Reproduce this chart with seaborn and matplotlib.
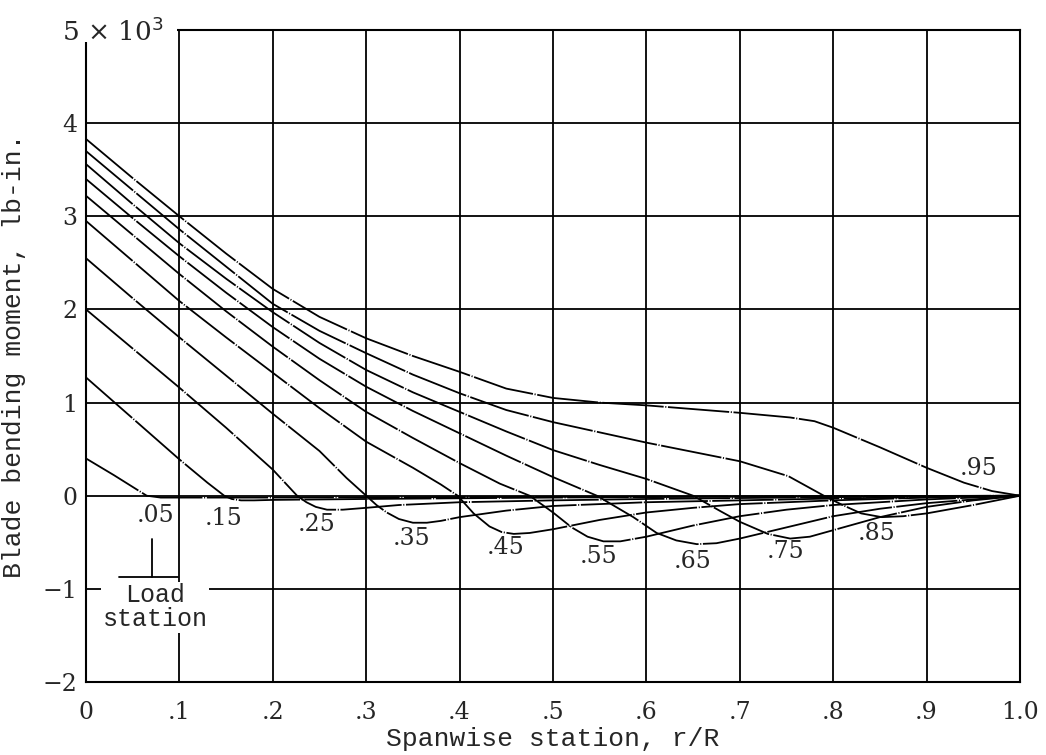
import matplotlib
matplotlib.use("Agg")
import matplotlib.pyplot as plt
import seaborn as sns
import pandas as pd
from matplotlib.patches import Rectangle

# ---------------- data ----------------
stations = [".05", ".15", ".25", ".35", ".45", ".55", ".65", ".75", ".85", ".95"]

r_05 = [0, 0.03, 0.065, 0.08, 0.2, 0.4, 0.6, 0.8, 1.0]
m_05 = [0.40, 0.22, 0.0, -0.02, -0.02, -0.015, -0.01, -0.005, 0.0]

r_15 = [0, 0.05, 0.1, 0.13, 0.148, 0.156, 0.166, 0.18, 0.2, 0.3, 0.5, 0.7, 0.9, 1.0]
m_15 = [1.27, 0.83, 0.39, 0.14, 0.0, -0.035, -0.05, -0.05, -0.045, -0.035, -0.02, -0.01, -0.004, 0.0]

r_25 = [0, 0.05, 0.1, 0.15, 0.2, 0.226, 0.236, 0.246, 0.258, 0.275, 0.3, 0.335, 0.4, 0.5, 0.6, 0.7, 0.8, 0.9, 1.0]
m_25 = [2.0, 1.58, 1.16, 0.73, 0.28, 0.0, -0.07, -0.12, -0.15, -0.15, -0.13, -0.10, -0.07, -0.05, -0.035, -0.025, -0.015, -0.007, 0.0]

r_35 = [0, 0.05, 0.1, 0.15, 0.2, 0.25, 0.279, 0.30, 0.311, 0.322, 0.335, 0.35, 0.365, 0.38, 0.4, 0.45, 0.5, 0.6, 0.7, 0.8, 0.9, 1.0]
m_35 = [2.55, 2.12, 1.70, 1.29, 0.88, 0.48, 0.19, 0.0, -0.10, -0.18, -0.25, -0.29, -0.29, -0.27, -0.23, -0.16, -0.11, -0.07, -0.05, -0.03, -0.015, 0.0]

r_45 = [0, 0.05, 0.1, 0.15, 0.2, 0.25, 0.3, 0.35, 0.38, 0.398, 0.415, 0.432, 0.445, 0.458, 0.475, 0.5, 0.55, 0.6, 0.65, 0.7, 0.8, 0.9, 1.0]
m_45 = [2.95, 2.52, 2.09, 1.70, 1.32, 0.94, 0.58, 0.30, 0.12, 0.0, -0.19, -0.33, -0.39, -0.41, -0.40, -0.36, -0.26, -0.18, -0.13, -0.09, -0.05, -0.02, 0.0]

r_55 = [0, 0.05, 0.1, 0.15, 0.2, 0.25, 0.3, 0.35, 0.4, 0.443, 0.475, 0.5, 0.52, 0.537, 0.554, 0.572, 0.6, 0.65, 0.7, 0.75, 0.8, 0.9, 1.0]
m_55 = [3.22, 2.80, 2.38, 1.98, 1.60, 1.24, 0.90, 0.62, 0.35, 0.13, 0.0, -0.18, -0.34, -0.44, -0.49, -0.49, -0.44, -0.32, -0.22, -0.15, -0.10, -0.04, 0.0]

r_65 = [0, 0.05, 0.1, 0.15, 0.2, 0.25, 0.3, 0.35, 0.4, 0.45, 0.5, 0.547, 0.586, 0.611, 0.632, 0.654, 0.675, 0.7, 0.75, 0.8, 0.85, 0.9, 1.0]
m_65 = [3.40, 2.98, 2.57, 2.18, 1.81, 1.47, 1.17, 0.91, 0.67, 0.43, 0.20, 0.0, -0.23, -0.40, -0.48, -0.52, -0.51, -0.46, -0.34, -0.22, -0.14, -0.08, 0.0]

r_75 = [0, 0.05, 0.1, 0.15, 0.2, 0.25, 0.3, 0.35, 0.4, 0.45, 0.5, 0.55, 0.6, 0.65, 0.68, 0.7, 0.73, 0.754, 0.775, 0.8, 0.85, 0.9, 0.95, 1.0]
m_75 = [3.56, 3.13, 2.71, 2.33, 1.97, 1.64, 1.35, 1.11, 0.90, 0.69, 0.49, 0.33, 0.18, 0.0, -0.17, -0.28, -0.41, -0.46, -0.44, -0.37, -0.23, -0.12, -0.05, 0.0]

r_85 = [0, 0.05, 0.1, 0.15, 0.2, 0.25, 0.3, 0.35, 0.4, 0.45, 0.5, 0.55, 0.6, 0.65, 0.7, 0.752, 0.79, 0.81, 0.83, 0.852, 0.875, 0.9, 0.95, 1.0]
m_85 = [3.70, 3.28, 2.86, 2.46, 2.06, 1.77, 1.53, 1.30, 1.10, 0.92, 0.79, 0.68, 0.57, 0.47, 0.37, 0.21, 0.0, -0.10, -0.19, -0.23, -0.22, -0.19, -0.10, 0.0]

r_95 = [0, 0.05, 0.1, 0.15, 0.2, 0.25, 0.3, 0.35, 0.4, 0.45, 0.5, 0.55, 0.6, 0.65, 0.7, 0.754, 0.78, 0.8, 0.85, 0.9, 0.94, 0.97, 1.0]
m_95 = [3.83, 3.41, 3.0, 2.60, 2.22, 1.92, 1.69, 1.50, 1.33, 1.15, 1.05, 1.0, 0.97, 0.93, 0.89, 0.84, 0.80, 0.73, 0.52, 0.30, 0.14, 0.05, 0.0]

r_all = [r_05, r_15, r_25, r_35, r_45, r_55, r_65, r_75, r_85, r_95]
m_all = [m_05, m_15, m_25, m_35, m_45, m_55, m_65, m_75, m_85, m_95]

x_ticks = [0, 0.1, 0.2, 0.3, 0.4, 0.5, 0.6, 0.7, 0.8, 0.9, 1.0]
x_ticklabels = ["0", ".1", ".2", ".3", ".4", ".5", ".6", ".7", ".8", ".9", "1.0"]
y_ticks = [-2, -1, 0, 1, 2, 3, 4, 5]
y_ticklabels = ["\u22122", "\u22121", "0", "1", "2", "3", "4", ""]

# label anchor positions for each curve (layout)
label_pos = [(0.074, -0.21), (0.147, -0.24), (0.247, -0.31), (0.349, -0.46), (0.449, -0.56),
             (0.549, -0.65), (0.649, -0.71), (0.749, -0.60), (0.847, -0.41), (0.956, 0.29)]

# ---------------- build frame ----------------
rows = []
for st, rr, mm in zip(stations, r_all, m_all):
    for a, b in zip(rr, mm):
        rows.append({"station": st, "r": a, "M": b})
df = pd.DataFrame(rows)

sns.set_theme(style="white")
plt.rcParams["font.family"] = ["DejaVu Serif"]

fig = plt.figure(figsize=(10.46, 7.55), dpi=100)
ax = fig.add_axes([86 / 1046, 73 / 755, 934 / 1046, 652 / 755])

sns.lineplot(data=df, x="r", y="M", units="station", estimator=None, sort=False,
             color="black", linewidth=1.3, ax=ax, legend=False)
for ln in ax.lines:
    ln.set_dashes((34, 0.9, 0.6, 0.9))
    ln.set_zorder(3)
    ln.set_solid_joinstyle("round")
    ln.set_dash_joinstyle("round")

ax.set_xlim(0, 1.0)
ax.set_ylim(-2, 5)
ax.set_xticks(x_ticks)
ax.set_xticklabels(x_ticklabels, fontsize=17, family="DejaVu Serif")
ax.set_yticks(y_ticks)
ax.set_yticklabels(y_ticklabels, fontsize=17, family="DejaVu Serif")
ax.tick_params(axis="both", length=0)
ax.tick_params(axis="x", pad=14)
ax.tick_params(axis="y", pad=6)

ax.grid(True, color="black", linewidth=1.3)
ax.set_axisbelow(True)
for s in ax.spines.values():
    s.set_color("black")
    s.set_linewidth(1.5)

ax.set_xlabel("Spanwise station, r/R", fontsize=19, family="Liberation Mono", labelpad=2)
ax.set_ylabel("Blade bending moment, lb-in.", fontsize=19, family="Liberation Mono", labelpad=12)

# curve labels
for st, (lx, ly) in zip(stations, label_pos):
    ax.text(lx, ly, st, fontsize=17, family="DejaVu Serif", ha="center", va="center", zorder=5)

# top-left multiplier breaking the frame
ax.add_patch(Rectangle((-0.04, 0.982), 0.137, 0.05, transform=ax.transAxes,
                       facecolor="white", edgecolor="none", clip_on=False, zorder=6))
ax.text(-0.026, 0.998, "5 \u00d7 10$^3$", transform=ax.transAxes, fontsize=19,
        family="DejaVu Serif", ha="left", va="center", zorder=7, clip_on=False)

# load-station key
ax.plot([0.071, 0.071], [-0.46, -0.87], color="black", lw=1.3, zorder=4)
ax.plot([0.035, 0.098], [-0.87, -0.87], color="black", lw=1.3, zorder=4)
ax.text(0.074, -1.2, "Load\nstation", fontsize=18, family="Liberation Mono",
        ha="center", va="center", linespacing=1.0, zorder=5,
        bbox=dict(facecolor="white", edgecolor="none", pad=1))

fig.savefig("out.png", dpi=100)
